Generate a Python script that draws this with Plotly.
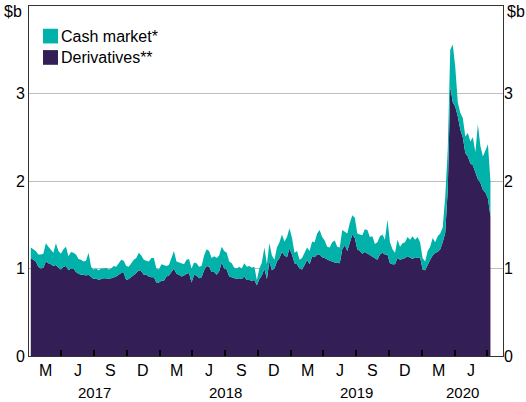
import pandas as pd
import plotly.graph_objects as go

# Weekly turnover, $ billion (Friday observations)
week_start = "2017-01-06"

total_turnover = [
    1.24, 1.22, 1.20, 1.16, 1.16, 1.17, 1.29, 1.25, 1.21, 1.18,
    1.29, 1.20, 1.17, 1.22, 1.25, 1.14, 1.19, 1.18, 1.16, 1.11,
    1.10, 1.08, 1.09, 1.18, 1.02, 0.99, 1.00, 0.98, 1.00, 1.00,
    1.01, 0.99, 1.00, 1.03, 1.02, 1.06, 1.10, 1.09, 1.03, 1.02,
    1.06, 1.10, 1.12, 1.18, 1.15, 1.10, 1.09, 1.08, 1.12, 1.12,
    1.00, 0.99, 1.05, 1.04, 1.03, 1.04, 1.12, 1.20, 1.08, 1.07,
    1.06, 1.05, 1.10, 1.11, 1.00, 1.07, 1.06, 1.02, 1.03, 1.15,
    1.22, 1.20, 1.12, 1.14, 1.12, 1.15, 1.25, 1.20, 1.18, 1.08,
    1.06, 1.01, 1.00, 1.02, 1.00, 1.06, 1.02, 1.03, 1.01, 1.02,
    0.87, 1.00, 1.07, 1.24, 1.05, 1.29, 1.15, 1.10, 1.24, 1.30,
    1.39, 1.31, 1.36, 1.46, 1.35, 1.18, 1.20, 1.10, 1.12, 1.18,
    1.24, 1.20, 1.31, 1.30, 1.40, 1.44, 1.36, 1.32, 1.25, 1.24,
    1.30, 1.32, 1.25, 1.24, 1.44, 1.42, 1.40, 1.52, 1.61, 1.58,
    1.40, 1.39, 1.38, 1.45, 1.44, 1.36, 1.37, 1.28, 1.30, 1.37,
    1.39, 1.33, 1.56, 1.30, 1.22, 1.18, 1.33, 1.25, 1.29, 1.30,
    1.36, 1.33, 1.37, 1.33, 1.36, 1.30, 1.12, 1.08, 1.20, 1.25,
    1.35, 1.30, 1.37, 1.40, 1.47, 1.82, 2.36, 3.50, 3.56, 3.30,
    2.90, 2.78, 2.72, 2.51, 2.55, 2.45, 2.50, 2.33, 2.65, 2.40,
    2.28, 2.35, 2.42, 2.00,
]

derivatives = [
    1.12, 1.10, 1.08, 1.02, 1.00, 1.01, 1.08, 1.06, 1.05, 1.03,
    1.04, 1.01, 0.99, 1.02, 1.03, 0.98, 1.00, 1.00, 0.96, 0.94,
    0.93, 0.93, 0.92, 0.93, 0.90, 0.88, 0.89, 0.87, 0.88, 0.89,
    0.89, 0.88, 0.89, 0.90, 0.91, 0.93, 0.95, 0.95, 0.87, 0.88,
    0.90, 0.93, 0.95, 0.98, 0.97, 0.93, 0.93, 0.91, 0.90, 0.90,
    0.84, 0.84, 0.86, 0.86, 0.91, 0.92, 0.96, 1.00, 0.94, 0.93,
    0.91, 0.92, 0.94, 0.95, 0.84, 0.93, 0.92, 0.89, 0.90, 0.98,
    1.03, 1.02, 0.96, 0.96, 0.93, 0.97, 1.07, 1.00, 0.99, 0.91,
    0.90, 0.89, 0.88, 0.89, 0.88, 0.91, 0.87, 0.87, 0.86, 0.87,
    0.81, 0.88, 0.92, 1.00, 0.88, 1.08, 0.98, 1.00, 1.08, 1.12,
    1.19, 1.15, 1.13, 1.23, 1.16, 1.06, 1.05, 1.00, 0.99, 1.04,
    1.10, 1.05, 1.14, 1.13, 1.16, 1.16, 1.13, 1.12, 1.10, 1.09,
    1.08, 1.07, 1.07, 1.06, 1.22, 1.27, 1.20, 1.30, 1.39, 1.35,
    1.22, 1.20, 1.17, 1.19, 1.17, 1.16, 1.14, 1.12, 1.10, 1.16,
    1.18, 1.16, 1.16, 1.06, 1.05, 1.05, 1.12, 1.10, 1.11, 1.12,
    1.14, 1.12, 1.11, 1.13, 1.12, 1.13, 0.99, 0.98, 1.05, 1.10,
    1.15, 1.18, 1.19, 1.22, 1.30, 1.41, 1.90, 3.08, 2.90, 2.85,
    2.74, 2.59, 2.50, 2.32, 2.28, 2.20, 2.18, 2.10, 2.02, 1.98,
    1.90, 1.87, 1.80, 1.60,
]

series_names = ["Cash market*", "Derivatives**"]
quarter_letters = ["M", "J", "S", "D"]
years = [2017, 2018, 2019, 2020]
y_ticks = [0, 1, 2, 3]
unit_label = "$b"

TEAL = "#00B2A9"
PURPLE = "#331F55"
FONT = "Liberation Sans, Arial, sans-serif"
FS = 16

dates = pd.date_range(week_start, periods=len(derivatives), freq="7D")
x_start = pd.Timestamp("2017-01-01")
x_end = pd.Timestamp("2020-08-14")

fig = go.Figure()
fig.add_trace(go.Scatter(
    x=dates, y=derivatives, mode="lines", line=dict(width=0, color=PURPLE),
    fill="tozeroy", fillcolor=PURPLE, name=series_names[1], showlegend=False,
))
fig.add_trace(go.Scatter(
    x=dates, y=total_turnover, mode="lines", line=dict(width=0, color=TEAL),
    fill="tonexty", fillcolor=TEAL, name=series_names[0], showlegend=False,
))
# invisible copy on the right-hand axis so it is drawn
fig.add_trace(go.Scatter(
    x=dates, y=total_turnover, yaxis="y2", mode="lines", opacity=0,
    line=dict(width=0), hoverinfo="skip", showlegend=False,
))

# quarter boundaries for tick marks
quarter_starts = pd.date_range("2017-04-01", "2020-07-01", freq="QS")

annotations = []
# quarter letters at mid-quarter
for q in pd.date_range("2017-01-01", "2020-04-01", freq="QS"):
    mid = q + (q + pd.offsets.QuarterBegin(startingMonth=1) - q) / 2
    annotations.append(dict(
        x=mid, y=-0.04, xref="x", yref="paper", text=quarter_letters[(q.month - 1) // 3],
        showarrow=False, font=dict(family=FONT, size=FS, color="black"),
        xanchor="center", yanchor="middle",
    ))
for yr in years:
    a = max(pd.Timestamp(f"{yr}-01-01"), x_start)
    b = min(pd.Timestamp(f"{yr + 1}-01-01"), x_end)
    annotations.append(dict(
        x=a + (b - a) / 2, y=-0.104, xref="x", yref="paper", text=str(yr),
        showarrow=False, font=dict(family=FONT, size=15, color="black"),
        xanchor="center", yanchor="middle",
    ))
# unit labels
for xp, anchor in [(-0.011, "right"), (1.004, "left")]:
    annotations.append(dict(
        x=xp, y=0.983, xref="paper", yref="paper", text=unit_label, showarrow=False,
        font=dict(family=FONT, size=FS, color="black"), xanchor=anchor, yanchor="middle",
    ))

# legend keys
shapes = []
legend_rows = [(series_names[0], TEAL, 0.914), (series_names[1], PURPLE, 0.853)]
for name, col, yc in legend_rows:
    shapes.append(dict(
        type="rect", xref="paper", yref="paper", x0=0.0295, x1=0.0612,
        y0=yc - 0.021, y1=yc + 0.021, fillcolor=col, line=dict(width=0),
    ))
    annotations.append(dict(
        x=0.063, y=yc, xref="paper", yref="paper", text=name, showarrow=False,
        font=dict(family=FONT, size=FS, color="black"), xanchor="left", yanchor="middle",
    ))

axis_font = dict(family=FONT, size=FS, color="black")
fig.update_layout(
    width=526, height=402,
    margin=dict(l=29, r=23, t=6, b=46),
    paper_bgcolor="white", plot_bgcolor="white",
    font=axis_font,
    xaxis=dict(
        type="date", range=[x_start, x_end], tickvals=list(quarter_starts),
        showticklabels=False, ticks="inside", ticklen=6, tickwidth=1.5, tickcolor="black",
        showgrid=False, showline=True, linecolor="#333333", linewidth=1, mirror=True,
        zeroline=False,
    ),
    yaxis=dict(
        range=[0, 4], tickvals=y_ticks, ticks="", showgrid=True,
        gridcolor="#BDBDBD", gridwidth=1, showline=True, linecolor="#333333",
        linewidth=1, mirror=True, zeroline=False, tickfont=axis_font,
    ),
    yaxis2=dict(
        range=[0, 4], tickvals=y_ticks, overlaying="y", side="right", ticks="",
        showgrid=False, showline=False, zeroline=False, tickfont=axis_font,
    ),
    shapes=shapes,
    annotations=annotations,
)

fig.write_html("out.html")
